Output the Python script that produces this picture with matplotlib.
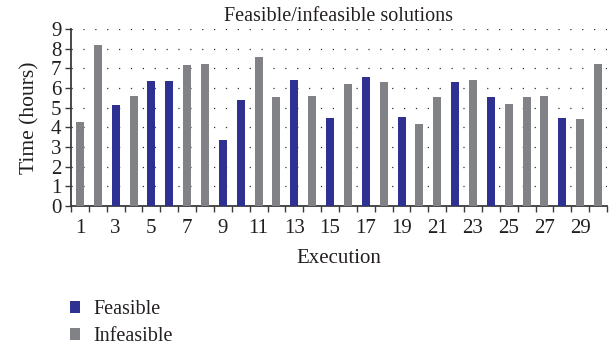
import matplotlib
matplotlib.use("Agg")
import matplotlib.pyplot as plt
from matplotlib.patches import Patch

executions = list(range(1, 31))
hours = [4.25, 8.2, 5.15, 5.6, 6.35, 6.35, 7.15, 7.2, 3.35, 5.4,
         7.6, 5.55, 6.4, 5.6, 4.45, 6.2, 6.55, 6.3, 4.55, 4.15,
         5.55, 6.3, 6.4, 5.55, 5.2, 5.55, 5.6, 4.5, 4.4, 7.2]
feasible = [0, 0, 1, 0, 1, 1, 0, 0, 1, 1,
            0, 0, 1, 0, 1, 0, 1, 0, 1, 0,
            0, 1, 0, 1, 0, 0, 0, 1, 0, 0]
x_tick_labels = [str(i) for i in range(1, 30, 2)]
legend_labels = ["Feasible", "Infeasible"]

BLUE = "#2e3192"
GRAY = "#808285"
TEXT = "#231f20"

plt.rcParams["font.family"] = ["Liberation Serif", "DejaVu Serif"]

fig = plt.figure(figsize=(6.09, 3.49), dpi=100)
ax = fig.add_axes([71 / 609, 1 - 206 / 349, (607 - 71) / 609, (206 - 29) / 349])

colors = [BLUE if f else GRAY for f in feasible]
ax.bar(executions, hours, width=0.45, color=colors, zorder=3)

ax.set_xlim(0.5, 30.5)
ax.set_ylim(0, 9)
ax.set_yticks(range(0, 10))
ax.set_xticks(range(1, 30, 2))
ax.set_xticklabels(x_tick_labels)
ax.set_xticks([i + 0.5 for i in range(0, 31)], minor=True)

for y in range(1, 10):
    ax.axhline(y, color="#333333", linewidth=0.9, linestyle=(0, (1, 8.5)), zorder=1)

for side in ("top", "right"):
    ax.spines[side].set_visible(False)
for side in ("left", "bottom"):
    ax.spines[side].set_color("#3a3a3a")
    ax.spines[side].set_linewidth(1.3)

ax.tick_params(axis="y", direction="out", length=4, width=1, color="#3a3a3a",
               labelsize=15, pad=3, labelcolor=TEXT)
ax.tick_params(axis="x", which="major", length=0, labelsize=15, pad=9, labelcolor=TEXT)
ax.tick_params(axis="x", which="minor", direction="out", length=4, width=1, color="#3a3a3a")

ax.set_title("Feasible/infeasible solutions", fontsize=14.5, color=TEXT, pad=6)
ax.set_ylabel("Time (hours)", fontsize=15.5, color=TEXT, labelpad=8)
ax.set_xlabel("Execution", fontsize=15, color=TEXT, labelpad=8)

handles = [Patch(facecolor=BLUE), Patch(facecolor=GRAY)]
fig.legend(handles, legend_labels, loc="upper left", bbox_to_anchor=(70 / 609, 1 - 300 / 349),
           frameon=False, fontsize=14.5, handlelength=0.5, handleheight=0.5,
           handletextpad=0.65, labelspacing=0.4, borderpad=0, borderaxespad=0,
           labelcolor=TEXT)

fig.savefig("out.png", dpi=100)
